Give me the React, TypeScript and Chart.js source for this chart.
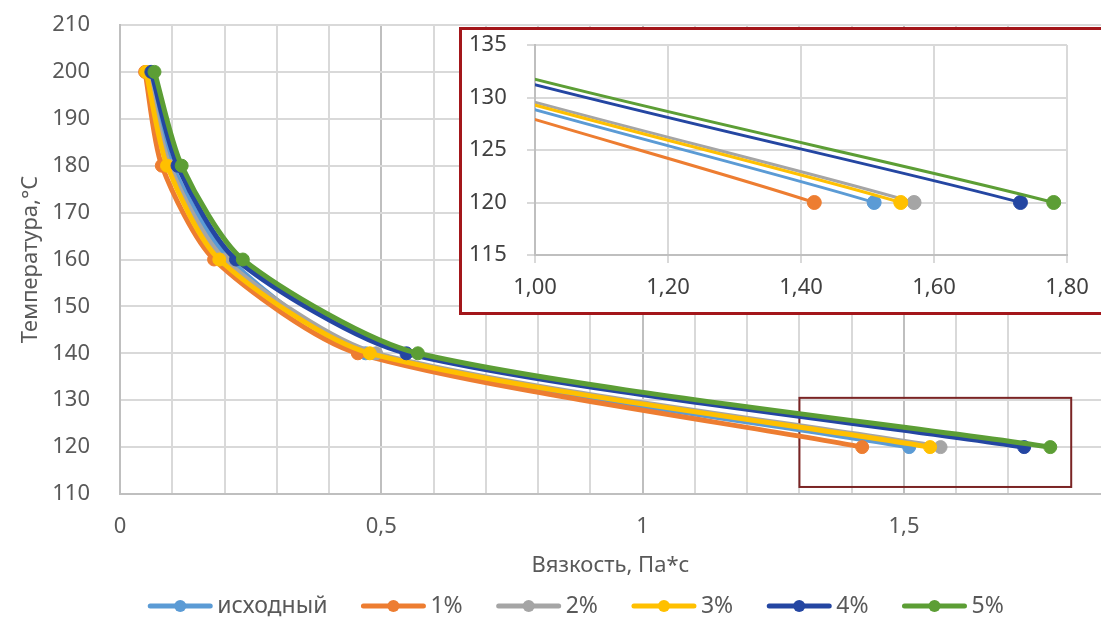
import React, { useEffect, useRef } from "react";
import { Chart, registerables } from "chart.js";

Chart.register(...registerables);

const FONT = '"Noto Sans", "DejaVu Sans", sans-serif';

// ---- data ----
const seriesNames = ["исходный", "1%", "2%", "3%", "4%", "5%"];
const seriesColors = ["#5B9BD5", "#ED7D31", "#A5A5A5", "#FFC000", "#2446A2", "#5C9E35"];
const temperatures = [200, 180, 160, 140, 120];
const viscBase = [0.058, 0.1, 0.21, 0.47, 1.51];
const visc1 = [0.048, 0.08, 0.18, 0.455, 1.42];
const visc2 = [0.052, 0.095, 0.2, 0.49, 1.57];
const visc3 = [0.05, 0.09, 0.19, 0.478, 1.55];
const visc4 = [0.06, 0.11, 0.222, 0.548, 1.73];
const visc5 = [0.066, 0.118, 0.235, 0.57, 1.78];
const seriesViscosity = [viscBase, visc1, visc2, visc3, visc4, visc5];

const xTitle = "Вязкость, Па*с";
const yTitle = "Температура,°C";

// main axes
const mainXMin = 0;
const mainXMax = 1.877;
const mainXStep = 0.1;
const mainXLabelStep = 0.5;
const mainYMin = 110;
const mainYMax = 210;
const mainYStep = 10;

// zoom window (data units)
const zoomXMin = 1.3;
const zoomXMax = 1.82;
const zoomYMin = 111.5;
const zoomYMax = 130.5;

// inset axes
const insetXMin = 1.0;
const insetXMax = 1.8;
const insetXStep = 0.2;
const insetYMin = 115;
const insetYMax = 135;
const insetYStep = 5;

const TENSION = 0.25;

function buildDatasets(lineWidth: number, radius: number) {
  return seriesNames.map((name, i) => ({
    label: name,
    data: temperatures.map((t, j) => ({ x: seriesViscosity[i][j], y: t })),
    borderColor: seriesColors[i],
    backgroundColor: seriesColors[i],
    pointBackgroundColor: seriesColors[i],
    pointBorderColor: seriesColors[i],
    borderWidth: lineWidth,
    pointRadius: radius,
    pointBorderWidth: 1,
    tension: TENSION,
    order: seriesNames.length - i,
  }));
}

const isMultiple = (v: number, step: number) => Math.abs(v / step - Math.round(v / step)) < 1e-6;

const zoomBoxPlugin = {
  id: "zoomBox",
  beforeDatasetsDraw(chart: any) {
    const { ctx, scales } = chart;
    const x1 = scales.x.getPixelForValue(zoomXMin);
    const x2 = scales.x.getPixelForValue(zoomXMax);
    const y1 = scales.y.getPixelForValue(zoomYMax);
    const y2 = scales.y.getPixelForValue(zoomYMin);
    ctx.save();
    ctx.strokeStyle = "#7A2424";
    ctx.lineWidth = 2;
    ctx.strokeRect(x1, y1, x2 - x1, y2 - y1);
    ctx.restore();
  },
};

const legendPlugin = {
  id: "seriesLegend",
  afterDraw(chart: any) {
    const ctx = chart.ctx;
    ctx.save();
    ctx.font = `23px ${FONT}`;
    const markW = 66;
    const gapText = 4;
    const gapItem = 33;
    const widths = seriesNames.map((n) => ctx.measureText(n).width);
    const total =
      widths.reduce((a, w) => a + markW + gapText + w, 0) + gapItem * (seriesNames.length - 1);
    let x = chart.width / 2 + 25 - total / 2;
    const y = 606;
    seriesNames.forEach((name, i) => {
      ctx.strokeStyle = seriesColors[i];
      ctx.fillStyle = seriesColors[i];
      ctx.lineWidth = 5;
      ctx.lineCap = "round";
      ctx.beginPath();
      ctx.moveTo(x + 3, y);
      ctx.lineTo(x + markW - 3, y);
      ctx.stroke();
      ctx.beginPath();
      ctx.arc(x + markW / 2, y, 6, 0, Math.PI * 2);
      ctx.fill();
      ctx.fillStyle = "#595959";
      ctx.textAlign = "left";
      ctx.textBaseline = "middle";
      ctx.fillText(name, x + markW + gapText, y);
      x += markW + gapText + widths[i] + gapItem;
    });
    ctx.restore();
  },
};

export default function App() {
  const mainRef = useRef<HTMLCanvasElement | null>(null);
  const insetRef = useRef<HTMLCanvasElement | null>(null);

  useEffect(() => {
    Chart.defaults.font.family = FONT;
    const main = new Chart(mainRef.current as HTMLCanvasElement, {
      type: "line",
      data: { datasets: buildDatasets(5, 6.5) as any },
      options: {
        animation: false,
        responsive: false,
        maintainAspectRatio: false,
        layout: { autoPadding: false, padding: { top: 25, left: 0, right: 0, bottom: 46 } },
        plugins: { legend: { display: false }, tooltip: { enabled: false } },
        scales: {
          x: {
            type: "linear",
            min: mainXMin,
            max: mainXMax,
            afterFit: (s: any) => {
              s.height = 90;
              s.paddingLeft = 0;
              s.paddingRight = 0;
            },
            ticks: {
              stepSize: mainXStep,
              autoSkip: false,
              maxRotation: 0,
              padding: 20,
              color: "#595959",
              font: { size: 22, family: FONT },
              callback: (v: any) => {
                const n = Number(v);
                if (!isMultiple(n, mainXLabelStep)) return "";
                return String(Math.round(n * 10) / 10).replace(".", ",");
              },
            },
            grid: {
              drawTicks: false,
              color: (c: any) => {
                const v = c.tick ? c.tick.value : 0;
                if (isMultiple(v, mainXLabelStep)) return "#BFBFBF";
                if (isMultiple(v, mainXStep)) return "#D9D9D9";
                return "rgba(0,0,0,0)";
              },
              lineWidth: 2,
            },
            border: { color: "#BFBFBF", width: 2 },
            title: {
              display: true,
              text: xTitle,
              color: "#595959",
              font: { size: 22, family: FONT },
              padding: { top: 5, bottom: 5 },
            },
          },
          y: {
            type: "linear",
            min: mainYMin,
            max: mainYMax,
            afterFit: (s: any) => {
              s.width = 120;
              s.paddingTop = 0;
              s.paddingBottom = 0;
            },
            ticks: {
              stepSize: mainYStep,
              padding: 30,
              color: "#595959",
              font: { size: 22, family: FONT },
            },
            grid: { drawTicks: false, color: "#D9D9D9", lineWidth: 2 },
            border: { color: "#BFBFBF", width: 2 },
            title: {
              display: true,
              text: yTitle,
              color: "#595959",
              font: { size: 22, family: FONT },
              padding: { top: 18, bottom: 0 },
            },
          },
        },
      },
      plugins: [zoomBoxPlugin, legendPlugin],
    });

    const inset = new Chart(insetRef.current as HTMLCanvasElement, {
      type: "line",
      data: { datasets: buildDatasets(3, 7) as any },
      options: {
        animation: false,
        responsive: false,
        maintainAspectRatio: false,
        layout: { autoPadding: false, padding: { top: 15, left: 7, right: 49, bottom: 0 } },
        elements: { line: { capBezierPoints: false } },
        plugins: { legend: { display: false }, tooltip: { enabled: false } },
        scales: {
          x: {
            type: "linear",
            min: insetXMin,
            max: insetXMax,
            afterFit: (s: any) => {
              s.height = 57;
              s.paddingLeft = 0;
              s.paddingRight = 0;
            },
            ticks: {
              stepSize: insetXStep,
              autoSkip: false,
              maxRotation: 0,
              padding: 12,
              color: "#404040",
              font: { size: 22, family: FONT },
              callback: (v: any) => Number(v).toFixed(2).replace(".", ","),
            },
            grid: { color: "#D9D9D9", tickLength: 8, lineWidth: 2 },
            border: { color: "#BFBFBF", width: 2 },
          },
          y: {
            type: "linear",
            min: insetYMin,
            max: insetYMax,
            afterFit: (s: any) => {
              s.width = 66;
              s.paddingTop = 0;
              s.paddingBottom = 0;
            },
            ticks: {
              stepSize: insetYStep,
              crossAlign: "far",
              color: "#404040",
              font: { size: 22, family: FONT },
            },
            grid: { color: "#D9D9D9", tickLength: 8, lineWidth: 2 },
            border: { color: "#BFBFBF", width: 2 },
          },
        },
      },
    });

    return () => {
      main.destroy();
      inset.destroy();
    };
  }, []);

  return (
    <div
      style={{
        position: "fixed",
        left: 0,
        top: 0,
        width: 1101,
        height: 630,
        overflow: "hidden",
        background: "#ffffff",
      }}
    >
      <canvas
        ref={mainRef}
        width={1101}
        height={630}
        style={{ position: "absolute", left: 0, top: 0 }}
      />
      <div
        style={{
          position: "absolute",
          left: 459,
          top: 27,
          width: 660,
          height: 288,
          border: "3px solid #A3161A",
          boxSizing: "border-box",
          background: "#ffffff",
        }}
      >
        <canvas ref={insetRef} width={654} height={282} style={{ display: "block" }} />
      </div>
    </div>
  );
}
